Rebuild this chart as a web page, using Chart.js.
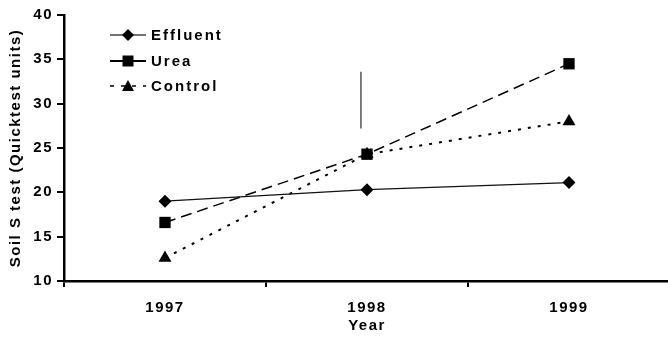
<!DOCTYPE html>
<html>
<head>
<meta charset="utf-8">
<script src="https://cdn.jsdelivr.net/npm/chart.js@4.4.0/dist/chart.umd.min.js"></script>
<style>
  html, body { margin: 0; padding: 0; background: #fff; overflow: hidden; }
  #wrap { width: 678px; height: 338px; }
</style>
</head>
<body>
<div id="wrap"><canvas id="chart"></canvas></div>
<script>
const years = ['1997', '1998', '1999'];
const effluent = [19.0, 20.3, 21.1];
const urea = [16.6, 24.3, 34.5];
const control = [12.6, 24.3, 28.0];
// vertical bar drawn near 1998 (hidden linear axis, 0..3)
const errBar = [{ x: 1.47, y: 33.6 }, { x: 1.47, y: 27.2 }];
const yTicks = [10, 15, 20, 25, 30, 35, 40];

const FONT = { family: 'Arial, "Liberation Sans", sans-serif', size: 15, weight: 'bold' };

const spacing = {
  id: 'spacing',
  beforeUpdate(chart) { chart.ctx.letterSpacing = '1.5px'; },
  beforeDraw(chart) { chart.ctx.letterSpacing = '1.5px'; },
};

function marker(ctx, style, x, y) {
  ctx.beginPath();
  if (style === 'rectRot') {
    const r = 6;
    ctx.moveTo(x, y - r); ctx.lineTo(x + r, y); ctx.lineTo(x, y + r); ctx.lineTo(x - r, y);
  } else if (style === 'rect') {
    ctx.rect(x - 5.5, y - 5.5, 11, 11);
  } else if (style === 'triangle') {
    ctx.moveTo(x, y - 6); ctx.lineTo(x + 6, y + 5); ctx.lineTo(x - 6, y + 5);
  }
  ctx.closePath();
  ctx.fill();
}

const legendPlugin = {
  id: 'customLegend',
  afterDraw(chart) {
    const ctx = chart.ctx;
    const rows = [35, 61, 86];
    let i = 0;
    chart.data.datasets.forEach((ds) => {
      if (!ds.label) return;
      const y = rows[i++];
      ctx.save();
      ctx.strokeStyle = ds.legendColor || ds.borderColor;
      ctx.lineWidth = ds.legendWidth || 1.5;
      ctx.setLineDash(ds.legendDash || []);
      ctx.beginPath();
      ctx.moveTo(110, y);
      ctx.lineTo(146, y);
      ctx.stroke();
      ctx.setLineDash([]);
      ctx.fillStyle = '#000';
      marker(ctx, ds.pointStyle, 128, y);
      ctx.letterSpacing = '2px';
      ctx.font = 'bold 15px Arial, "Liberation Sans", sans-serif';
      ctx.textBaseline = 'middle';
      ctx.fillText(ds.label, 151, y + 1);
      ctx.restore();
    });
  },
};

new Chart(document.getElementById('chart'), {
  type: 'line',
  data: {
    labels: years,
    datasets: [
      {
        label: 'Effluent', data: effluent, borderColor: '#111', borderWidth: 1.2,
        pointStyle: 'rectRot', pointRadius: 6.5, pointBackgroundColor: '#000', pointBorderWidth: 0,
        legendColor: '#444', legendWidth: 1.5,
      },
      {
        label: 'Urea', data: urea, borderColor: '#000', borderWidth: 1.5, borderDash: [11, 6],
        pointStyle: 'rect', pointRadius: 8, pointBackgroundColor: '#000', pointBorderWidth: 0,
        legendWidth: 2,
      },
      {
        label: 'Control', data: control, borderColor: '#000', borderWidth: 2, borderDash: [3, 7],
        pointStyle: 'triangle', pointRadius: 7.5, pointBackgroundColor: '#000', pointBorderWidth: 0,
        legendDash: [4, 7], legendWidth: 1.5,
      },
      {
        data: errBar, xAxisID: 'x2', borderColor: '#555', borderWidth: 1.5, pointRadius: 0,
      },
    ],
  },
  options: {
    responsive: true,
    maintainAspectRatio: false,
    animation: false,
    layout: { padding: { top: 15, left: 0, right: 0, bottom: 0 } },
    plugins: { legend: { display: false }, tooltip: { enabled: false } },
    scales: {
      x: {
        offset: true,
        border: { display: true, color: '#000', width: 2.5 },
        grid: { offset: true, drawOnChartArea: false, drawTicks: true, tickLength: 6, color: '#000', lineWidth: 2 },
        ticks: { color: '#000', font: FONT, padding: 12, maxRotation: 0 },
        title: { display: true, text: 'Year', color: '#000', font: FONT, padding: { top: 0, bottom: 3 } },
        afterFit(scale) { scale.height = 57; },
      },
      x2: { type: 'linear', display: false, min: 0, max: 3 },
      y: {
        min: 10, max: 40,
        afterBuildTicks(scale) { scale.ticks = yTicks.map((v) => ({ value: v })); },
        border: { display: true, color: '#000', width: 2.5 },
        grid: { drawOnChartArea: false, drawTicks: true, tickLength: 7, color: '#000', lineWidth: 2 },
        ticks: { color: '#000', font: FONT, padding: 4 },
        title: { display: true, text: 'Soil S test (Quicktest units)', color: '#000', font: FONT, padding: { top: 7, bottom: 2 } },
        afterFit(scale) { scale.width = 64; },
      },
    },
  },
  plugins: [spacing, legendPlugin],
});
</script>
</body>
</html>
